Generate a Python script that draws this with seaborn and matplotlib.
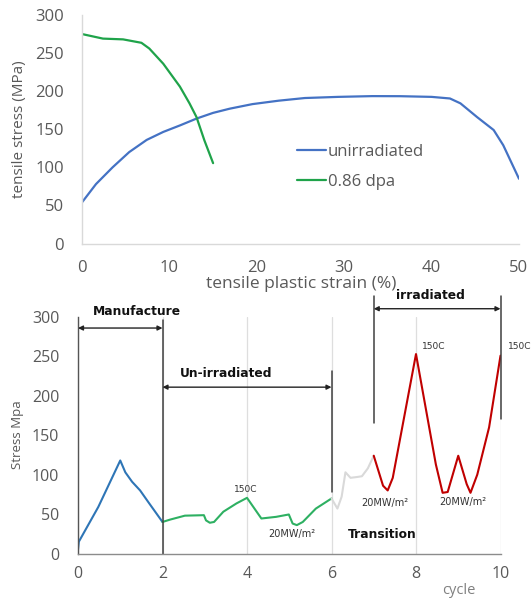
import numpy as np
import pandas as pd
import matplotlib
matplotlib.use("Agg")
import matplotlib.pyplot as plt
import seaborn as sns

# ---------------- data: top chart (tensile curves) ----------------
strain_unirr = [0, 1.6, 3.5, 5.4, 7.4, 9.3, 11.2, 13.1, 15.0, 16.9, 19.5, 22.5, 25.5, 29.3, 33.2, 36.4,
                40.0, 42.1, 43.3, 45.2, 47.1, 48.2, 50]
stress_unirr = [54, 78, 100, 120, 136, 146.5, 155, 164, 171.5, 177, 183, 187.5, 191, 192.5, 193.5, 193.4,
                192.5, 190.4, 184, 166, 149, 129, 85]
strain_dpa = [0, 2.4, 4.7, 6.8, 7.7, 9.3, 11.2, 12.3, 13.1, 14.0, 15.0]
stress_dpa = [275, 269, 268, 263.5, 256, 236, 206, 184, 166, 135.5, 105.5]
top_series = ["unirradiated", "0.86 dpa"]
top_xticks = [0, 10, 20, 30, 40, 50]
top_yticks = [0, 50, 100, 150, 200, 250, 300]

# ---------------- data: bottom chart (stress vs cycle) ----------------
cyc_manuf = [0, 0.02, 0.48, 1.0, 1.12, 1.28, 1.47, 1.68, 2.0]
str_manuf = [5, 15, 59, 118, 103, 91, 80, 64, 40]
cyc_unirr = [2.0, 2.18, 2.53, 2.98, 3.03, 3.12, 3.22, 3.44, 3.75, 4.0, 4.34, 4.69, 4.99, 5.08, 5.18, 5.32, 5.63, 6.0]
str_unirr = [40, 43, 48, 48.6, 42, 39, 40, 53, 63.5, 70.6, 44.4, 46.5, 49.5, 38, 36, 40, 57, 69.8]
cyc_trans = [6.0, 6.14, 6.24, 6.33, 6.45, 6.6, 6.72, 6.86, 7.0]
str_trans = [69.8, 57, 72, 103, 96, 97, 98, 108, 124]
cyc_irr = [7.0, 7.22, 7.33, 7.45, 8.0, 8.47, 8.63, 8.75, 9.0, 9.2, 9.29, 9.45, 9.73, 10.0]
str_irr = [124, 86, 80, 96, 253, 113, 77, 78, 124, 88, 77, 100, 160, 251]
bot_xticks = [0, 2, 4, 6, 8, 10]
bot_yticks = [0, 50, 100, 150, 200, 250, 300]

# annotations (bracket markers, labels)
phase_labels = ["Manufacture", "Un-irradiated", "irradiated", "Transition"]
cond_labels = ["150C", "20MW/m\u00b2"]

sns.set_theme(style="white")
plt.rcParams["font.family"] = ["Open Sans", "DejaVu Sans"]

W, H = 531, 598
fig = plt.figure(figsize=(W / 100, H / 100), dpi=100)

def fx(px):
    return px / W

def fy(py):
    return 1 - py / H

tick_col = "#595959"

# ---------------- top axes ----------------
ax1 = fig.add_axes([fx(82), fy(243.5), fx(519 - 82), (243.5 - 15) / H])
df_top = pd.concat([
    pd.DataFrame({"strain": strain_unirr, "stress": stress_unirr, "series": top_series[0]}),
    pd.DataFrame({"strain": strain_dpa, "stress": stress_dpa, "series": top_series[1]}),
])
sns.lineplot(data=df_top, x="strain", y="stress", hue="series", sort=False,
             palette={top_series[0]: "#4472C4", top_series[1]: "#1FA34A"},
             linewidth=1.6, ax=ax1, legend=True)
ax1.set_xlim(0, 50)
ax1.set_ylim(0, 300)
ax1.set_xticks(top_xticks)
ax1.set_yticks(top_yticks)
ax1.tick_params(axis="both", length=0, labelsize=12, colors=tick_col)
ax1.tick_params(axis="x", pad=12)
ax1.tick_params(axis="y", pad=13)
for s in ["top", "right"]:
    ax1.spines[s].set_visible(False)
for s in ["left", "bottom"]:
    ax1.spines[s].set_color("#d9d9d9")
    ax1.spines[s].set_linewidth(1.0)
ax1.set_xlabel("")
ax1.set_ylabel("")
fig.text(fx(301), fy(284), "tensile plastic strain (%)", ha="center", va="center",
         fontsize=12.5, color=tick_col)
fig.text(fx(20), fy(129), "tensile stress (MPa)", ha="center", va="center",
         rotation=90, fontsize=11, color=tick_col)
leg = ax1.legend(loc="upper left", bbox_to_anchor=(fx(297), fy(144)),
                 bbox_transform=fig.transFigure, frameon=False, fontsize=12,
                 handlelength=1.75, handletextpad=0.1, labelspacing=0.85,
                 borderpad=0, borderaxespad=0)
for t in leg.get_texts():
    t.set_color(tick_col)

# ---------------- bottom axes ----------------
ax2 = fig.add_axes([fx(78), fy(553.5), fx(500.5 - 78), (553.5 - 317) / H])
ax2.set_xlim(0, 10)
ax2.set_ylim(0, 300)
ax2.set_xticks(bot_xticks)
ax2.set_yticks(bot_yticks)
ax2.grid(axis="x", color="#dedede", linewidth=0.9)
ax2.grid(axis="y", visible=False)

segments = [
    (cyc_manuf, str_manuf, "#2E75B6"),
    (cyc_unirr, str_unirr, "#2EB062"),
    (cyc_trans, str_trans, "#D9D9D9"),
    (cyc_irr, str_irr, "#C00000"),
]
for xs, ys, col in segments:
    sns.lineplot(x=xs, y=ys, sort=False, color=col, linewidth=1.5, ax=ax2)

ax2.tick_params(axis="both", length=0, labelsize=11.5, colors=tick_col)
ax2.tick_params(axis="x", pad=9)
ax2.tick_params(axis="y", pad=13.5)
for s in ["top", "right"]:
    ax2.spines[s].set_visible(False)
ax2.spines["left"].set_color("#555555")
ax2.spines["bottom"].set_color("#8c8c8c")
ax2.spines["left"].set_linewidth(1.0)
ax2.spines["bottom"].set_linewidth(1.0)

# bracket vertical lines
vx = [2, 6, 7, 10]
vlo = [0, 78, 165, 171]
vhi = [296, 232, 327, 327]
for x, lo, hi in zip(vx, vlo, vhi):
    ax2.plot([x, x], [lo, hi], color="#404040", linewidth=1.1, clip_on=False)

# double arrows
arrows = [(0, 2, 286), (2, 6, 211), (7, 10, 310.5)]
for x0, x1, y in arrows:
    ax2.annotate("", xy=(x0, y), xytext=(x1, y), annotation_clip=False,
                 arrowprops=dict(arrowstyle="<|-|>", color="#222222", lw=1.0,
                                 mutation_scale=7, shrinkA=0, shrinkB=0))

bold_pos = [(1.39, 307), (3.5, 228.7), (8.33, 327), (7.19, 23.5)]
for lab, (x, y) in zip(phase_labels, bold_pos):
    ax2.text(x, y, lab, ha="center", va="center", fontsize=8.8, fontweight="bold",
             family="DejaVu Sans", color="#111111", clip_on=False)

c150 = [(3.98, 80.6, "center"), (8.41, 263, "center"), (10.18, 262, "left")]
for x, y, ha in c150:
    ax2.text(x, y, cond_labels[0], ha=ha, va="center", fontsize=6.5,
             family="DejaVu Sans", color="#333333", clip_on=False)
cmw = [(5.05, 24.7), (7.25, 63.7), (9.11, 65)]
for x, y in cmw:
    ax2.text(x, y, cond_labels[1], ha="center", va="center", fontsize=7,
             family="DejaVu Sans", color="#333333", clip_on=False)

ax2.set_xlabel("")
ax2.set_ylabel("")
fig.text(fx(17), fy(435), "Stress Mpa", ha="center", va="center", rotation=90,
         fontsize=9.5, color=tick_col)
fig.text(fx(459), fy(590), "cycle", ha="center", va="center", fontsize=10.5,
         color="#808080")

fig.savefig("out.png", dpi=100)
